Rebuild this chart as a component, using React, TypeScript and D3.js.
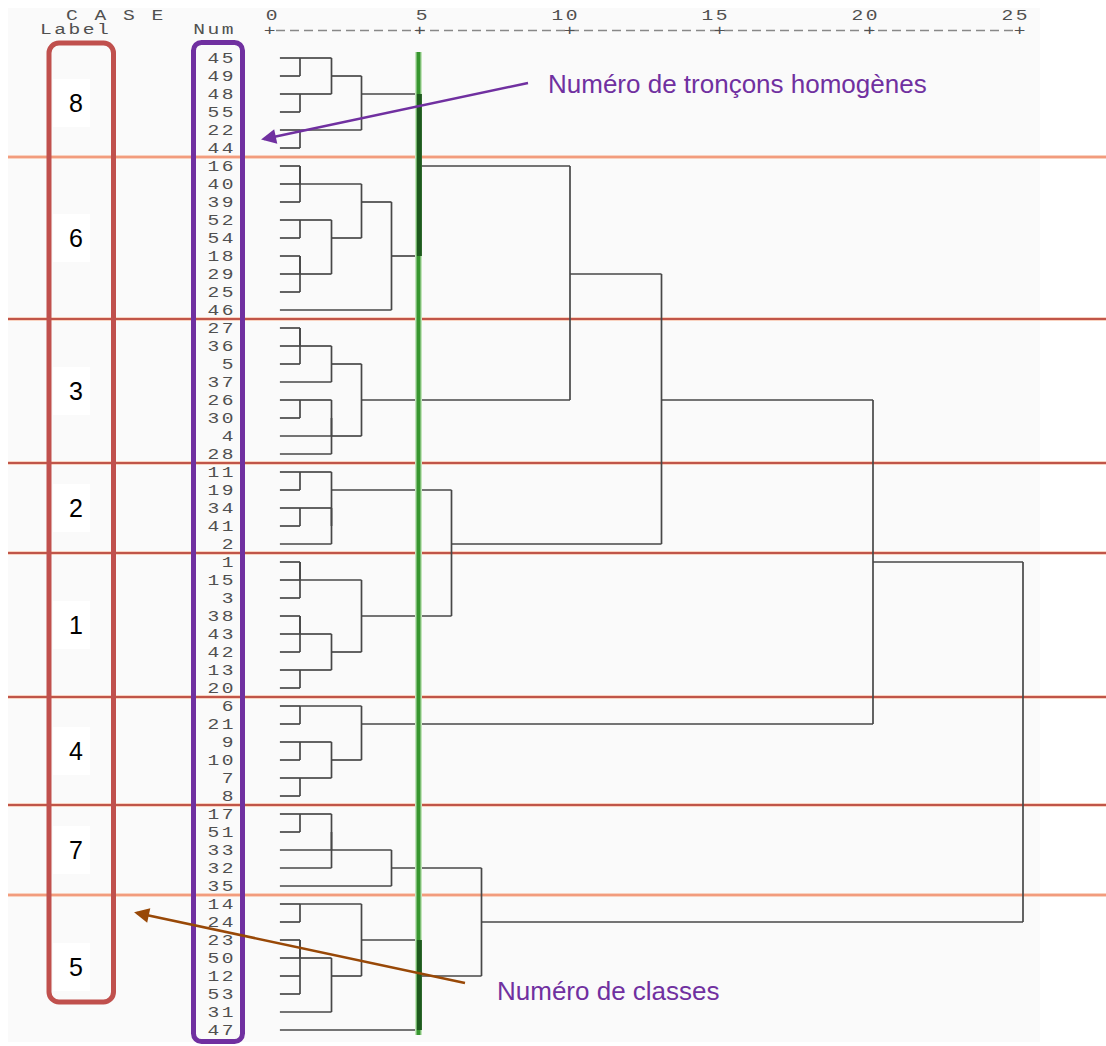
import * as d3 from "d3";
import React, { useMemo } from "react";

// case numbers, top to bottom, as printed in the "Num" column
const caseNums = [
  "45", "49", "48", "55", "22", "44",
  "16", "40", "39", "52", "54", "18", "29", "25", "46",
  "27", "36", "5", "37", "26", "30", "4", "28",
  "11", "19", "34", "41", "2",
  "1", "15", "3", "38", "43", "42", "13", "20",
  "6", "21", "9", "10", "7", "8",
  "17", "51", "33", "32", "35",
  "14", "24", "23", "50", "12", "53", "31", "47",
];

// class number of each block of consecutive cases, and the block sizes
const classLabels = ["8", "6", "3", "2", "1", "4", "7", "5"];
const classSizes = [6, 9, 8, 5, 8, 6, 5, 8];

// agglomeration schedule: [a, b, rescaled distance]; "mK" = result of step K
const merges: [string, string, number][] = [
  ["45", "49", 1], ["48", "55", 1], ["m0", "m1", 2.05], ["22", "44", 1], ["m2", "m3", 3.05],
  ["16", "40", 1], ["m5", "39", 1], ["52", "54", 1], ["18", "29", 1], ["m8", "25", 1],
  ["m7", "m9", 2.05], ["m6", "m10", 3.05], ["m11", "46", 4.05], ["m4", "m12", 4.98],
  ["27", "36", 1], ["m14", "5", 1], ["m15", "37", 2.05], ["26", "30", 1], ["m17", "4", 2.05],
  ["m18", "28", 2.05], ["m16", "m19", 3.05], ["m13", "m20", 10],
  ["11", "19", 1], ["34", "41", 1], ["m23", "2", 2.05], ["m22", "m24", 2.05],
  ["1", "15", 1], ["m26", "3", 1], ["38", "43", 1], ["m28", "42", 1], ["13", "20", 1],
  ["m29", "m30", 2.05], ["m27", "m31", 3.05], ["m25", "m32", 6.05], ["m21", "m33", 13.05],
  ["6", "21", 1], ["9", "10", 1], ["7", "8", 1], ["m36", "m37", 2.05], ["m35", "m38", 3.05],
  ["m34", "m39", 20.1],
  ["17", "51", 1], ["m41", "33", 2.05], ["m42", "32", 2.05], ["m43", "35", 4.05],
  ["14", "24", 1], ["23", "50", 1], ["12", "53", 1], ["m46", "m47", 1], ["m48", "31", 2.05],
  ["m45", "m49", 3.05], ["m50", "47", 4.98], ["m44", "m51", 7.05], ["m40", "m52", 25.1],
];

const axisTicks = [0, 5, 10, 15, 20, 25];
const cutLevel = 4.95; // green cut line

const W = 1106;
const H = 1046;
const LEAF_START = 0.33;
const PURPLE = "#7030a0";
const RED = "#c0504d";
const BROWN = "#984807";
const sepTone = ["light", "dark", "dark", "dark", "dark", "dark", "light"];

const Mono = ({ x, y, anchor = "start", children }: any) => (
  <text
    transform={`translate(${x},${y}) scale(1.4,1)`}
    textAnchor={anchor}
    fontFamily="'Liberation Mono', 'Courier New', monospace"
    fontSize={14}
    letterSpacing={1.8}
    fill="#505050"
  >
    {children}
  </text>
);

type N = { id: string; row: number; h: number; parent?: N; kids?: N[] };

export default function App() {
  const x = d3.scaleLinear().domain([0, 25]).range([270, 1020]);
  const y = d3.scaleLinear().domain([0, caseNums.length - 1]).range([58, 1030]);

  const { leaves, nodes } = useMemo(() => {
    const leaves: N[] = caseNums.map((c, i) => ({ id: c, row: i, h: LEAF_START }));
    const byId = new Map<string, N>(leaves.map((l) => [l.id, l]));
    const nodes: N[] = merges.map(([a, b, h], k) => {
      const na = byId.get(a)!;
      const nb = byId.get(b)!;
      const n: N = { id: "m" + k, row: Math.floor((na.row + nb.row) / 2), h, kids: [na, nb] };
      na.parent = n;
      nb.parent = n;
      byId.set(n.id, n);
      return n;
    });
    return { leaves, nodes };
  }, []);

  const all = [...leaves, ...nodes];
  const ends = d3.cumsum(classSizes);
  const starts = ends.map((e, i) => e - classSizes[i]);
  const seps = Array.from(ends).slice(0, -1).map((b) => (y(b - 1) + y(b)) / 2);
  const xCut = x(cutLevel);

  return (
    <svg width={W} height={H} style={{ position: "absolute", left: 0, top: 0, background: "#fff" }}>
      <defs>
        <marker id="arrP" viewBox="0 0 10 10" refX="8" refY="5" markerWidth="7" markerHeight="6" orient="auto">
          <path d="M0,0 L10,5 L0,10 z" fill={PURPLE} />
        </marker>
        <marker id="arrB" viewBox="0 0 10 10" refX="8" refY="5" markerWidth="7" markerHeight="6" orient="auto">
          <path d="M0,0 L10,5 L0,10 z" fill={BROWN} />
        </marker>
      </defs>

      <rect x={8} y={8} width={1032} height={1034} fill="#fafafa" />
      {starts.map((s, i) => (
        <rect key={"wb" + i} x={91} y={y(s) - 6} width={81} height={y(ends[i] - 1) - y(s) + 12} fill="#fff" />
      ))}

      {/* header */}
      <Mono x={66} y={20}>C A S E</Mono>
      <Mono x={40} y={34}>Label</Mono>
      <Mono x={236} y={34} anchor="end">Num</Mono>
      {axisTicks.map((t) => (
        <Mono key={"t" + t} x={x(t) + 10} y={20} anchor="end">{t}</Mono>
      ))}
      <line x1={x(0) + 6} x2={x(25) - 4} y1={30.5} y2={30.5} stroke="#888" strokeWidth={1.3} strokeDasharray="9 5" />
      {axisTicks.map((t) => (
        <Mono key={"p" + t} x={x(t) + 1} y={35} anchor="middle">+</Mono>
      ))}

      {/* class separators */}
      {seps.map((s, i) => (
        <g key={"s" + i}>
          <line x1={8} x2={W} y1={s} y2={s} stroke="#f9d2c0" strokeWidth={4} />
          <line x1={8} x2={W} y1={s} y2={s} stroke={sepTone[i] === "light" ? "#ef8a68" : "#ad2b22"} strokeWidth={1.4} />
        </g>
      ))}

      {/* case numbers */}
      {caseNums.map((c, i) => (
        <Mono key={"n" + c} x={236} y={y(i) + 5} anchor="end">{c}</Mono>
      ))}

      {/* dendrogram */}
      <g stroke="#474747" strokeWidth={1.7} fill="none">
        {all.filter((n) => n.parent).map((n) => (
          <line key={"h" + n.id} x1={x(n.h)} x2={x(n.parent!.h)} y1={y(n.row)} y2={y(n.row)} />
        ))}
        {nodes.map((n) => (
          <line key={"v" + n.id} x1={x(n.h)} x2={x(n.h)} y1={y(n.kids![0].row)} y2={y(n.kids![1].row)} />
        ))}
      </g>

      {/* cut line */}
      <line x1={xCut} x2={xCut} y1={52} y2={1035} stroke="#c2e4ba" strokeWidth={7} />
      <line x1={xCut} x2={xCut} y1={52} y2={1035} stroke="#37962f" strokeWidth={4} />
      {nodes.filter((n) => Math.abs(n.h - cutLevel) < 0.2).map((n) => (
        <line key={"c" + n.id} x1={x(n.h)} x2={x(n.h)} y1={y(n.kids![0].row)} y2={y(n.kids![1].row)} stroke="#1d5a1d" strokeWidth={5} />
      ))}

      {/* class labels */}
      {classLabels.map((l, i) => {
        const cy = y((starts[i] + ends[i] - 1) / 2);
        return (
          <g key={"l" + l}>
            <rect x={53} y={cy - 24} width={37} height={48} fill="#fff" />
            <text x={76} y={cy} dy="0.36em" textAnchor="middle" fontFamily="'Liberation Sans', Arial, sans-serif" fontSize={25} fill="#000">
              {l}
            </text>
          </g>
        );
      })}

      {/* boxes */}
      <rect x={49} y={43} width={64.5} height={959} rx={10} fill="none" stroke={RED} strokeWidth={5} />
      <rect x={193.5} y={42.5} width={49} height={999} rx={8} fill="none" stroke={PURPLE} strokeWidth={5} />

      {/* annotations */}
      <line x1={528} y1={83} x2={264} y2={139} stroke={PURPLE} strokeWidth={2.5} markerEnd="url(#arrP)" />
      <text x={548} y={93} fontFamily="'Liberation Sans', Arial, sans-serif" fontSize={26} fill={PURPLE}>
        Numéro de tronçons homogènes
      </text>
      <line x1={465} y1={983} x2={137} y2={913} stroke={BROWN} strokeWidth={2.5} markerEnd="url(#arrB)" />
      <text x={497} y={1000} fontFamily="'Liberation Sans', Arial, sans-serif" fontSize={26} fill={PURPLE}>
        Numéro de classes
      </text>
    </svg>
  );
}
